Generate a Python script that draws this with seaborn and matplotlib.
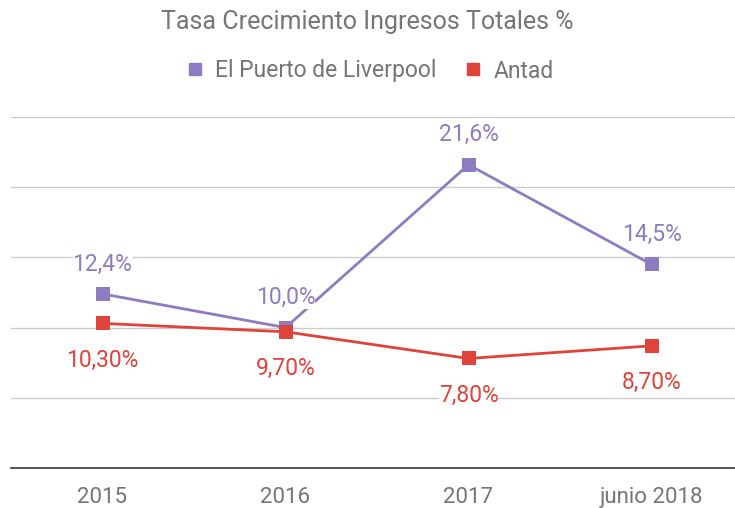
import pandas as pd
import matplotlib.pyplot as plt
import seaborn as sns

# datos
periodos = ['2015', '2016', '2017', 'junio 2018']
liverpool = [12.4, 10.0, 21.6, 14.5]
antad = [10.3, 9.7, 7.8, 8.7]
etiquetas_liverpool = ['12,4%', '10,0%', '21,6%', '14,5%']
etiquetas_antad = ['10,30%', '9,70%', '7,80%', '8,70%']

df = pd.DataFrame({
    'Periodo': periodos * 2,
    'Valor': liverpool + antad,
    'Serie': ['El Puerto de Liverpool'] * 4 + ['Antad'] * 4,
})

sns.set_style('white')
plt.rcParams['font.family'] = ['Roboto', 'DejaVu Sans']

morado = '#8e7cc3'
rojo = '#e0433a'
gris = '#757575'

fig = plt.figure(figsize=(7.35, 5.08), dpi=100)
ax = fig.add_axes([11 / 735, 40 / 508, 732 / 735, 351 / 508])

sns.lineplot(data=df, x='Periodo', y='Valor', hue='Serie', sort=False,
             palette={'El Puerto de Liverpool': morado, 'Antad': rojo},
             marker='s', markersize=10, markeredgewidth=0, linewidth=2,
             legend=False, ax=ax)

ax.set_xlim(-0.5, 3.5)
ax.set_ylim(0, 25)
ax.set_yticks([5, 10, 15, 20, 25])
ax.yaxis.grid(True, color='#cccccc', linewidth=1)
ax.set_axisbelow(True)
ax.tick_params(axis='y', left=False, labelleft=False)
ax.tick_params(axis='x', bottom=False, labelsize=16, labelcolor=gris, pad=10)
ax.set_xlabel('')
ax.set_ylabel('')
for lado in ['top', 'right', 'left']:
    ax.spines[lado].set_visible(False)
ax.spines['bottom'].set_color('#333333')
ax.spines['bottom'].set_linewidth(1.2)

# etiquetas de datos
for i, (v, t) in enumerate(zip(liverpool, etiquetas_liverpool)):
    ax.annotate(t, (i, v), xytext=(0, 21.5), textcoords='offset points',
                ha='center', va='center', fontsize=16.5, color=morado,
                bbox=dict(facecolor='white', edgecolor='none', pad=0))
for i, (v, t) in enumerate(zip(antad, etiquetas_antad)):
    ax.annotate(t, (i, v), xytext=(0, -26.5), textcoords='offset points',
                ha='center', va='center', fontsize=16.5, color=rojo,
                bbox=dict(facecolor='white', edgecolor='none', pad=0))

fig.text(0.5, 1 - 22 / 508, 'Tasa Crecimiento Ingresos Totales %',
         ha='center', va='center', fontsize=18, color=gris)

# leyenda
handles = [plt.Line2D([], [], marker='s', color=c, linestyle='none', markersize=9)
           for c in [morado, rojo]]
fig.legend(handles, ['El Puerto de Liverpool', 'Antad'], loc='center',
           bbox_to_anchor=(0.5, 1 - 71 / 508), ncol=2, frameon=False,
           fontsize=16.5, labelcolor=gris, handletextpad=0.3, columnspacing=1.0,
           handlelength=1.2)

fig.savefig('out.png', dpi=100)
